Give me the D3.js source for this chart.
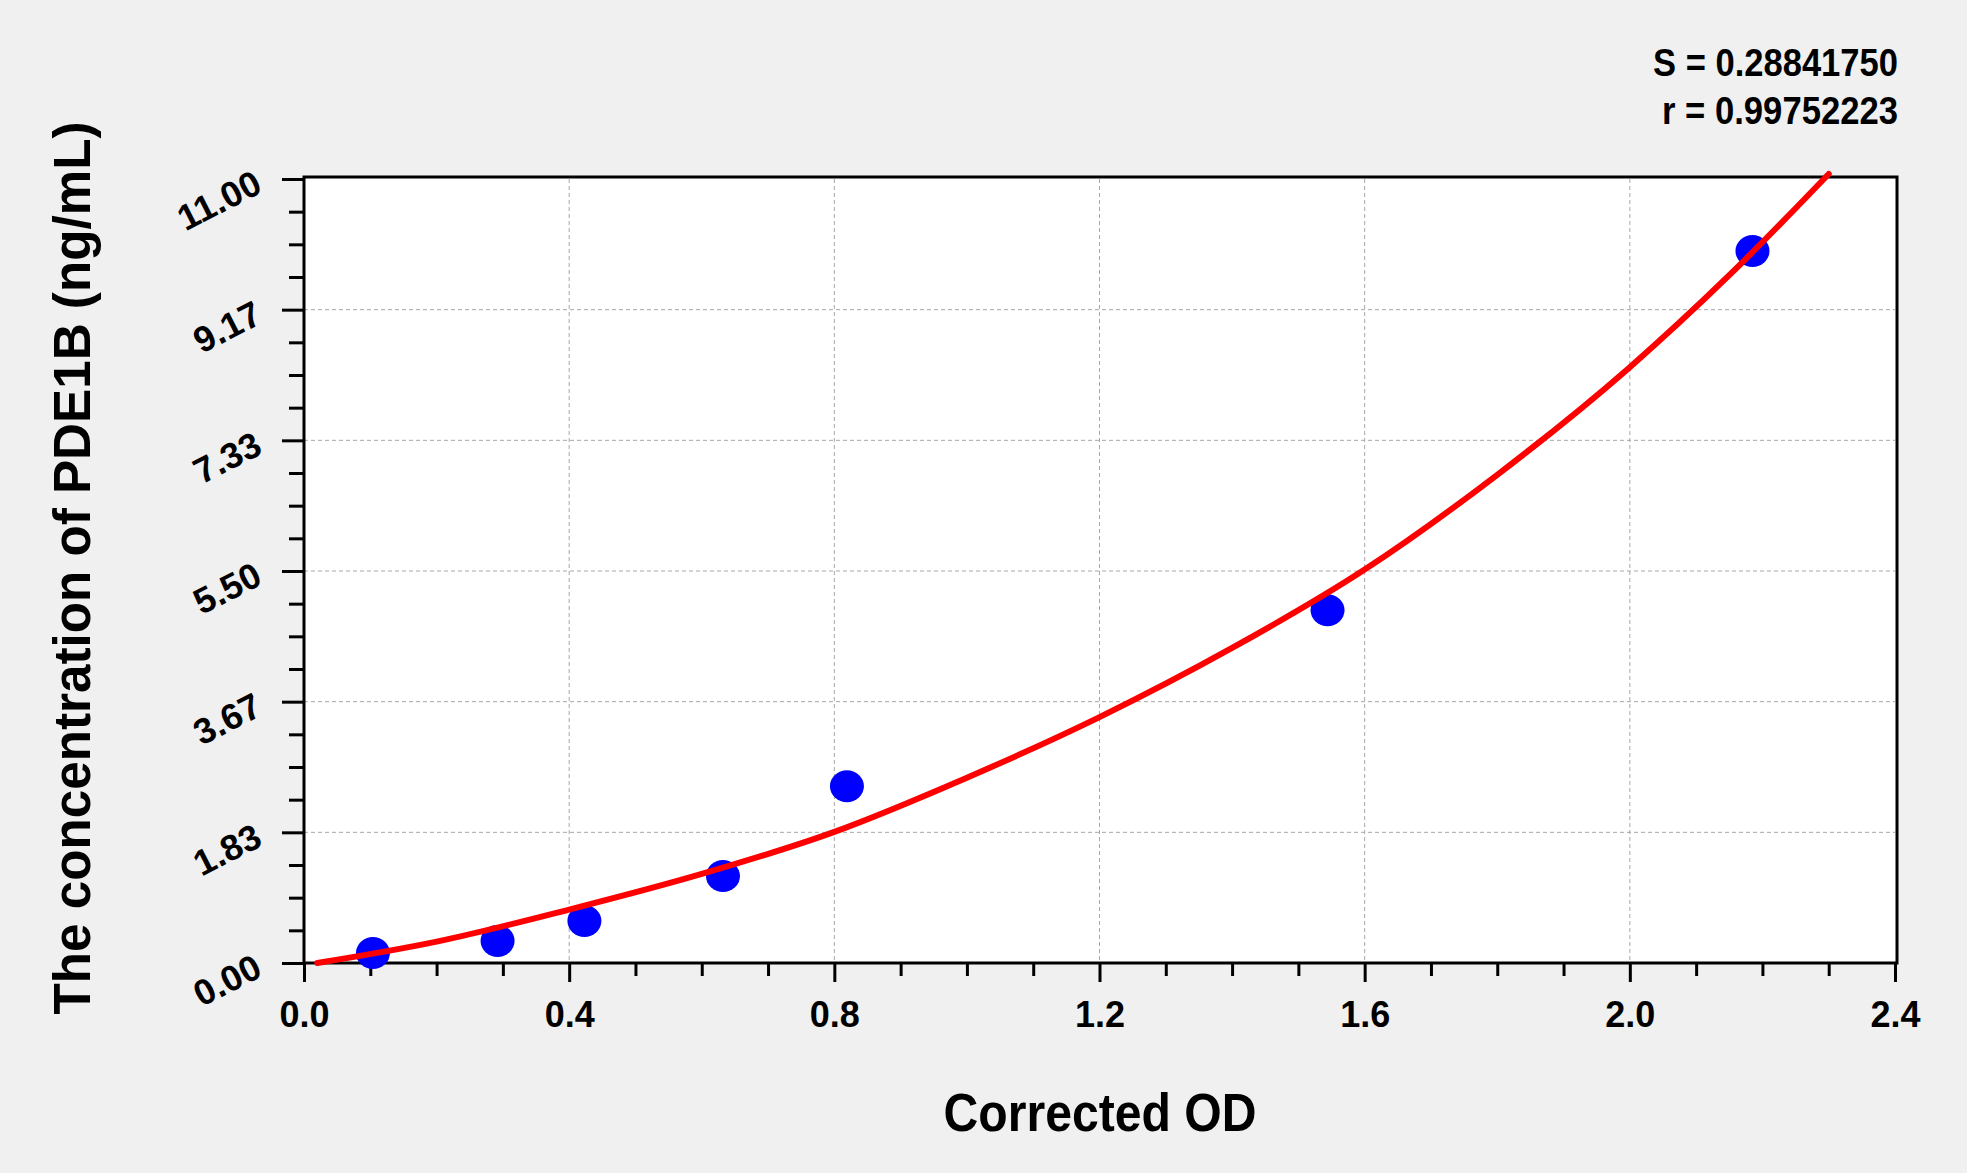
<!DOCTYPE html>
<html>
<head>
<meta charset="utf-8">
<script src="https://cdn.jsdelivr.net/npm/d3@7"></script>
<style>
  html, body { margin: 0; padding: 0; background: #f0f0f0; }
  svg { display: block; }
  text { font-family: "Liberation Sans", Arial, sans-serif; font-weight: bold; fill: #000; }
</style>
</head>
<body>
<div id="chart"></div>
<script>
// standards
const odValues = [0.104, 0.292, 0.423, 0.632, 0.819, 1.544, 2.185];
const concValues = [0.14, 0.31, 0.59, 1.22, 2.48, 4.95, 9.99];

// fitted curve, sampled by eye along the red line
const curveOd = [0.02, 0.20, 0.40, 0.60, 0.80, 1.00, 1.20, 1.40, 1.60, 1.80, 2.00, 2.15, 2.30];
const curveConc = [0.00, 0.30, 0.75, 1.25, 1.84, 2.60, 3.45, 4.42, 5.52, 6.85, 8.36, 9.65, 11.07];

const xTickValues = [0.0, 0.4, 0.8, 1.2, 1.6, 2.0, 2.4];
const xTickLabels = ["0.0", "0.4", "0.8", "1.2", "1.6", "2.0", "2.4"];
const yTickValues = [0, 11 / 6, 22 / 6, 33 / 6, 44 / 6, 55 / 6, 11];
const yTickLabels = ["0.00", "1.83", "3.67", "5.50", "7.33", "9.17", "11.00"];
const fitStats = ["S = 0.28841750", "r = 0.99752223"];

const W = 1967, H = 1173;
const plotLeft = 304, plotRight = 1895, plotTop = 179, plotBottom = 963;

const svg = d3.select("#chart").append("svg")
    .attr("width", W)
    .attr("height", H);

const x = d3.scaleLinear().domain([0, 2.4]).range([plotLeft, plotRight]);
const y = d3.scaleLinear().domain([0, 11]).range([plotBottom, plotTop]);

// plot area
svg.append("rect")
    .attr("x", plotLeft).attr("y", plotTop - 2)
    .attr("width", plotRight - plotLeft + 2).attr("height", plotBottom - plotTop + 2)
    .attr("fill", "#fff");

// grid
const xMinor = d3.range(0, 25).map(i => i / 10).filter((v, i) => i % 4 !== 0);
const yMinor = d3.range(0, 25).map(i => i * 11 / 24).filter((v, i) => i % 4 !== 0);

svg.append("g")
    .selectAll("line")
    .data(xTickValues.slice(1, -1))
    .enter().append("line")
    .attr("x1", d => x(d)).attr("x2", d => x(d))
    .attr("y1", plotTop).attr("y2", plotBottom)
    .attr("stroke", "#a8a8a8").attr("stroke-width", 1).attr("stroke-dasharray", "4,3");

svg.append("g")
    .selectAll("line")
    .data(yTickValues.slice(1, -1))
    .enter().append("line")
    .attr("x1", plotLeft).attr("x2", plotRight)
    .attr("y1", d => y(d)).attr("y2", d => y(d))
    .attr("stroke", "#a8a8a8").attr("stroke-width", 1).attr("stroke-dasharray", "4,3");

// x axis (major + minor)
const xAxis = svg.append("g")
    .attr("transform", `translate(0,${plotBottom})`)
    .call(d3.axisBottom(x).tickValues(xTickValues).tickSize(19).tickPadding(0)
        .tickFormat((d, i) => xTickLabels[i]));
xAxis.select(".domain").remove();
xAxis.selectAll(".tick line").attr("stroke", "#000").attr("stroke-width", 3);
xAxis.selectAll(".tick text")
    .attr("y", 64).attr("dy", null)
    .style("font-size", "36px")
    .attr("font-family", null);

const xAxisMinor = svg.append("g")
    .attr("transform", `translate(0,${plotBottom})`)
    .call(d3.axisBottom(x).tickValues(xMinor).tickSize(13).tickFormat(""));
xAxisMinor.select(".domain").remove();
xAxisMinor.selectAll(".tick line").attr("stroke", "#000").attr("stroke-width", 3);

// y axis (major + minor)
const yAxis = svg.append("g")
    .attr("transform", `translate(${plotLeft},0)`)
    .call(d3.axisLeft(y).tickValues(yTickValues).tickSize(22)
        .tickFormat((d, i) => yTickLabels[i]));
yAxis.select(".domain").remove();
yAxis.selectAll(".tick line").attr("stroke", "#000").attr("stroke-width", 3);
yAxis.selectAll(".tick text")
    .attr("x", null).attr("dy", null)
    .attr("text-anchor", "end")
    .attr("transform", "translate(-40,12) rotate(-27)")
    .style("font-size", "36px")
    .attr("font-family", null);

const yAxisMinor = svg.append("g")
    .attr("transform", `translate(${plotLeft},0)`)
    .call(d3.axisLeft(y).tickValues(yMinor).tickSize(15).tickFormat(""));
yAxisMinor.select(".domain").remove();
yAxisMinor.selectAll(".tick line").attr("stroke", "#000").attr("stroke-width", 3);

// frame
svg.append("rect")
    .attr("x", plotLeft).attr("y", plotTop - 2)
    .attr("width", plotRight - plotLeft + 2).attr("height", plotBottom - plotTop + 2)
    .attr("fill", "none").attr("stroke", "#000").attr("stroke-width", 3);

// standards
svg.append("g")
    .selectAll("ellipse")
    .data(odValues)
    .enter().append("ellipse")
    .attr("cx", d => x(d))
    .attr("cy", (d, i) => y(concValues[i]))
    .attr("rx", 17).attr("ry", 16)
    .attr("fill", "#0000ff");

// fitted curve
const line = d3.line()
    .x(d => x(d[0]))
    .y(d => y(d[1]))
    .curve(d3.curveMonotoneX);

svg.append("path")
    .datum(d3.zip(curveOd, curveConc))
    .attr("d", line)
    .attr("fill", "none")
    .attr("stroke", "#ff0000")
    .attr("stroke-width", 6)
    .attr("stroke-linecap", "round");

// fit statistics
svg.append("g")
    .selectAll("text")
    .data(fitStats)
    .enter().append("text")
    .attr("x", 1898)
    .attr("y", (d, i) => 76 + i * 48)
    .attr("text-anchor", "end")
    .attr("textLength", (d, i) => i === 0 ? 245 : 236)
    .attr("lengthAdjust", "spacingAndGlyphs")
    .style("font-size", "39px")
    .text(d => d);

// axis titles
svg.append("text")
    .attr("x", 1100).attr("y", 1131)
    .attr("text-anchor", "middle")
    .attr("textLength", 313)
    .attr("lengthAdjust", "spacingAndGlyphs")
    .style("font-size", "54px")
    .text("Corrected OD");

svg.append("text")
    .attr("transform", "translate(90,568) rotate(-90)")
    .attr("text-anchor", "middle")
    .attr("textLength", 893)
    .attr("lengthAdjust", "spacingAndGlyphs")
    .style("font-size", "51px")
    .text("The concentration of PDE1B (ng/mL)");
</script>
</body>
</html>
